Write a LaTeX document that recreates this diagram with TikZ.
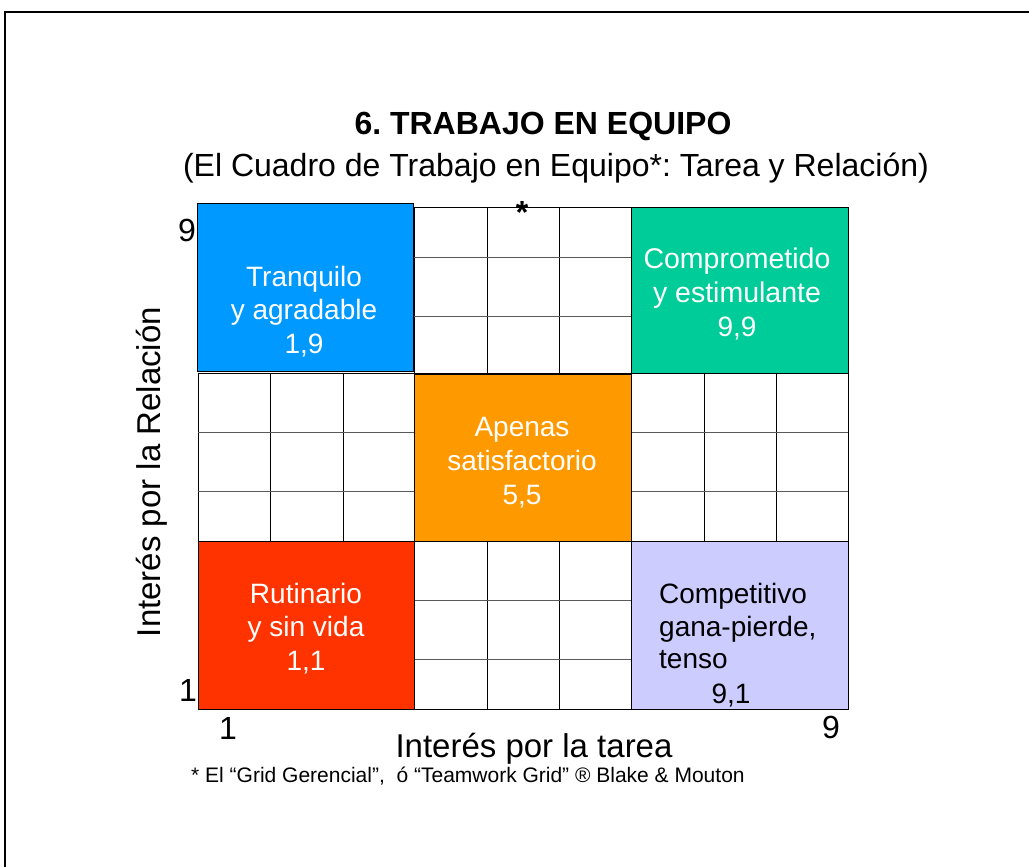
\documentclass[tikz,border=0pt]{standalone}
\usepackage{fontspec}
\setmainfont{Liberation Sans}
\definecolor{blueQ}{HTML}{0099FF}
\definecolor{greenQ}{HTML}{00CC99}
\definecolor{orangeQ}{HTML}{FF9900}
\definecolor{redQ}{HTML}{FF3300}
\definecolor{purpleQ}{HTML}{CCCCFF}
\frenchspacing
\begin{document}
\begin{tikzpicture}[x=1pt,y=-1pt,
  vline/.style={draw=black,line width=1pt},
  hline/.style={draw=black!65,line width=1pt},
  qbox/.style={draw=black,line width=1pt,inner sep=0pt,outer sep=0pt,minimum width=216pt,minimum height=167pt},
  boxtxt/.style={anchor=base,inner sep=0pt,font=\fontsize{28}{34}\selectfont},
  axisnum/.style={inner sep=0pt,font=\fontsize{32}{38}\selectfont},
  axislab/.style={inner sep=0pt,font=\fontsize{33}{40}\selectfont}]
\useasboundingbox (0,0) rectangle (1029,867);
% frame
\draw[line width=1.5pt] (5,867) -- (5,12) -- (1029,12);
% white grids
\foreach \x in {414,487,559,631} \draw[vline] (\x,207) -- (\x,373);
\foreach \y in {257,316} \draw[hline] (414,\y) -- (631,\y);
\draw[vline] (414,207) -- (631,207);
\foreach \x in {198,270,343,414} \draw[vline] (\x,373) -- (\x,541);
\foreach \x in {631,704,776,848} \draw[vline] (\x,373) -- (\x,541);
\foreach \y in {432,491} {\draw[hline] (198,\y) -- (414,\y); \draw[hline] (631,\y) -- (848,\y);}
\draw[vline] (198,373) -- (848,373);
\draw[vline] (198,541) -- (848,541);
\foreach \x in {414,487,559,631} \draw[vline] (\x,541) -- (\x,709);
\foreach \y in {600,659} \draw[hline] (414,\y) -- (631,\y);
\draw[vline] (414,709) -- (631,709);
% coloured quadrants
\node[qbox,fill=blueQ,minimum height=168pt] (q19) at (305,287) {};
\node[qbox,fill=greenQ,minimum width=217pt,minimum height=166pt] (q99) at (739.5,290) {};
\node[qbox,fill=orangeQ,minimum width=217pt] (q55) at (522.5,457.5) {};
\node[qbox,fill=redQ,minimum height=168pt] (q11) at (306,625) {};
\node[qbox,fill=purpleQ,minimum width=217pt,minimum height=168pt] (q91) at (739.5,625) {};
% quadrant texts
\node[boxtxt,text=white] (t19a) at (304,286) {Tranquilo};
\node[boxtxt,text=white] (t19b) at (304,319) {y agradable};
\node[boxtxt,text=white] (t19c) at (304,353) {1,9};
\node[boxtxt,text=white,font=\fontsize{28.5}{34}\selectfont] (t99a) at (737,268) {Comprometido};
\node[boxtxt,text=white,font=\fontsize{28.5}{34}\selectfont] (t99b) at (737,302) {y estimulante};
\node[boxtxt,text=white] (t99c) at (737,336) {9,9};
\node[boxtxt,text=white] (t55a) at (522,436) {Apenas};
\node[boxtxt,text=white] (t55b) at (522,470) {satisfactorio};
\node[boxtxt,text=white] (t55c) at (522,504) {5,5};
\node[boxtxt,text=white] (t11a) at (306,603) {Rutinario};
\node[boxtxt,text=white] (t11b) at (306,636) {y sin vida};
\node[boxtxt,text=white] (t11c) at (306,670) {1,1};
\node[boxtxt,anchor=base west] (t91a) at (659,603) {Competitivo};
\node[boxtxt,anchor=base west] (t91b) at (659,636) {gana-pierde,};
\node[boxtxt,anchor=base west] (t91c) at (659,668) {tenso};
\node[boxtxt] (t91d) at (731,703) {9,1};
% titles
\node[anchor=base,inner sep=0pt,font=\fontsize{32}{38}\selectfont\bfseries] (title) at (543,135) {6. TRABAJO EN EQUIPO};
\node[anchor=base,inner sep=0pt,font=\fontsize{32}{38}\selectfont] (subtitle) at (556,176) {(El Cuadro de Trabajo en Equipo*: Tarea y Relación)};
\node[anchor=base,inner sep=0pt,font=\fontsize{32}{38}\selectfont\bfseries] (star) at (522,223) {*};
% axes
\node[axisnum] (y9) at (187,230) {9};
\node[axisnum] (y1) at (188,690) {1};
\node[axisnum] (x1) at (228,728) {1};
\node[axisnum] (x9) at (831,727) {9};
\node[axislab,rotate=90] (ylab) at (152,472) {Interés por la Relación};
\node[axislab,anchor=base] (xlab) at (534,757) {Interés por la tarea};
\node[anchor=base west,inner sep=0pt,font=\fontsize{21}{25}\selectfont] (foot) at (191,782) {* El “Grid Gerencial”,\ \ ó “Teamwork Grid” ® Blake \& Mouton};
\end{tikzpicture}
\end{document}
